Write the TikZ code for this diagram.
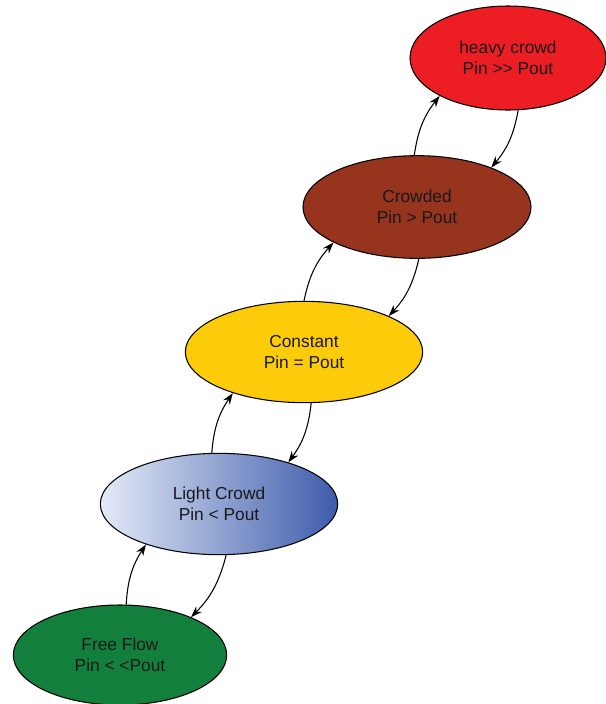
\documentclass[tikz,border=0pt]{standalone}
\usepackage{fontspec}
\setmainfont{Liberation Sans}
\usetikzlibrary{shapes.geometric,arrows.meta}
\definecolor{HeavyRed}{RGB}{236,30,36}
\definecolor{CrowdBrown}{RGB}{150,52,30}
\definecolor{ConstYellow}{RGB}{252,204,10}
\definecolor{LightBlueA}{RGB}{228,234,247}
\definecolor{LightBlueB}{RGB}{62,92,172}
\definecolor{FreeGreen}{RGB}{18,128,60}
\tikzset{
	st/.style={ellipse,draw=black,line width=0.8pt,inner sep=0pt,align=center,
		font=\fontsize{13}{16}\selectfont,text=black!90},
	flow/.style={draw=black,-{Stealth[length=8.5pt,width=6pt]},line width=0.8pt,bend left=15},
}

\begin{document}
\begin{tikzpicture}[x=0.75pt,y=-0.75pt]
	\useasboundingbox (0,0) rectangle (606,704);
	\node[st,fill=HeavyRed,minimum width=147pt,minimum height=78pt] (heavy) at (508,58) {heavy crowd\\Pin {>}{>} Pout};
	\node[st,fill=CrowdBrown,minimum width=171pt,minimum height=77pt] (crowd) at (417,207) {Crowded\\Pin > Pout};
	\node[st,fill=ConstYellow,minimum width=178pt,minimum height=76pt] (const) at (304,352) {Constant\\Pin = Pout};
	\node[st,left color=LightBlueA,right color=LightBlueB,minimum width=178pt,minimum height=76pt] (light) at (219,504) {Light Crowd\\Pin < Pout};
	\node[st,fill=FreeGreen,minimum width=160pt,minimum height=75pt] (free) at (120,655) {Free Flow\\Pin {<} {<}Pout};
	% up and down between neighbouring states
	\foreach \p/\a/\q/\b in {free/83/light/209,light/278/free/28,light/98/const/210,const/278/light/31,
		const/90/crowd/203,crowd/272/const/23,crowd/93/heavy/209,heavy/281/crowd/28}
	\draw[flow] (\p.\a) to (\q.\b);
\end{tikzpicture}
\end{document}
